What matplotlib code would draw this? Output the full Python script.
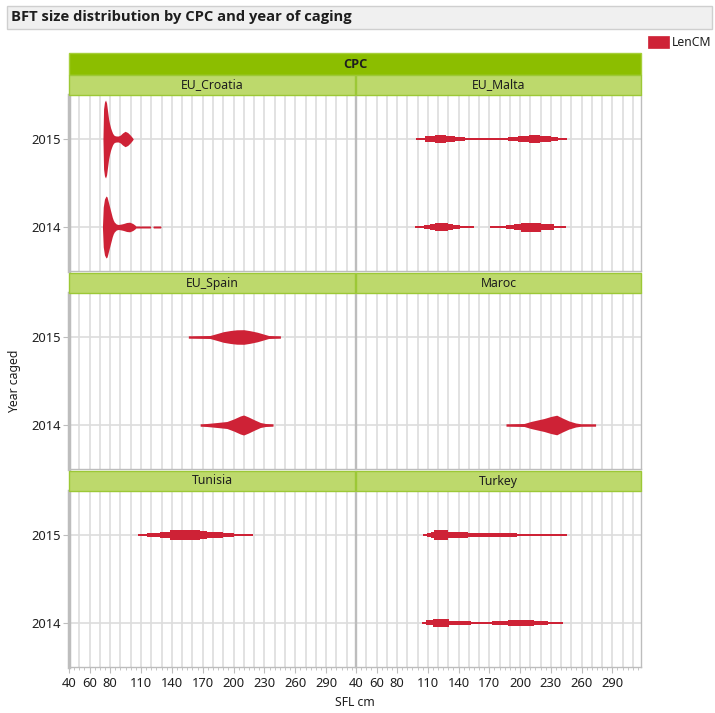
import numpy as np
import matplotlib
matplotlib.use("Agg")
import matplotlib.pyplot as plt
from matplotlib.patches import Rectangle

plt.rcParams['font.family'] = ['Noto Sans', 'DejaVu Sans']
BOLD_FAMILY = ['Open Sans', 'DejaVu Sans']

# ---------------------------------------------------------------- data
cpcs = ["EU_Croatia", "EU_Malta", "EU_Spain", "Maroc", "Tunisia", "Turkey"]
years = ["2014", "2015"]
x_tick_values = [40, 60, 80, 110, 140, 170, 200, 230, 260, 290]

# smooth density outlines: SFL (cm) and half width of the shape
croatia_2015_sfl = [73, 73.6, 74.5, 75.5, 76.5, 77.5, 78.5, 79.5, 80.5, 81.5, 82.5, 84,
                    86, 88, 90, 92, 94.5, 97, 99.5, 101.5, 102.5]
croatia_2015_w = [0, 30, 37, 39, 36, 28, 20, 15, 11, 8, 5.5, 3.5,
                  3, 3, 4, 6, 7.7, 6.5, 4, 1.5, 0]

croatia_2014_sfl = [72.5, 73.3, 74.5, 76, 77, 78, 79, 80, 81, 82, 83, 84, 86, 88, 91,
                    93, 96, 99, 102, 104, 105, 119, 119.5, 121.5, 122, 129, 129.5]
croatia_2014_w = [0, 20, 28, 31, 30, 26, 22, 18, 14, 10, 7, 5, 3, 2.5, 3,
                  3.5, 4.5, 4.8, 3.5, 2, 1, 1, 0, 0, 1, 1, 0]

spain_2015_sfl = [156, 177, 184, 190, 197, 203, 210, 216, 223, 229, 234, 245.5]
spain_2015_w = [1.2, 1.5, 3.5, 5.3, 6.5, 7.2, 7.3, 6.3, 4.8, 3.0, 1.5, 1.2]

spain_2014_sfl = [167.5, 174, 184, 193.5, 200, 206.5, 209.7, 214.5, 219.5, 226, 231, 238.3]
spain_2014_w = [1.2, 1.5, 2.5, 3.5, 6.0, 9.0, 10.0, 8.0, 5.5, 2.5, 1.5, 1.2]

maroc_2014_sfl = [186.3, 204, 210.5, 217, 223.5, 230, 235.8, 241.3, 247.8, 254.3, 259, 273.7]
maroc_2014_w = [1.2, 1.5, 3.5, 5.0, 6.5, 8.5, 9.8, 7.0, 4.0, 2.0, 1.3, 1.2]

# binned outlines: bin edges (cm) and half width per bin
malta_2015_edges = [99, 107, 117, 128, 137, 146, 188, 198, 209, 219, 230, 237, 246]
malta_2015_w = [1.0, 2.7, 4.3, 2.7, 1.7, 1.0, 1.7, 2.7, 4.3, 2.7, 1.7, 1.0]

malta_2014_edges = [98, 106, 112, 117, 130, 134.5, 141, 155.5, 171, 186, 194, 201, 220, 233, 244.5]
malta_2014_w = [1.0, 2.0, 3.0, 4.3, 3.0, 2.0, 1.0, 0.0, 1.0, 2.0, 3.0, 4.5, 3.0, 1.0]

tunisia_2015_edges = [107, 116, 128.5, 138, 154, 167, 174, 190, 200, 218.5]
tunisia_2015_w = [1.0, 2.0, 3.3, 4.7, 5.3, 4.0, 3.3, 2.0, 1.0]

turkey_2015_edges = [105.5, 109.5, 113, 116.5, 129.5, 149, 197, 245.5]
turkey_2015_w = [1.0, 2.0, 3.3, 5.0, 3.3, 2.0, 1.0]

turkey_2014_edges = [104, 108.5, 115, 131, 152, 173, 188.5, 214, 227.5, 242]
turkey_2014_w = [1.0, 2.5, 4.3, 2.3, 1.2, 2.3, 3.0, 2.3, 1.0]


def binned(edges, w):
    edges = np.asarray(edges, float)
    xs = np.column_stack([edges[:-1], edges[1:]]).ravel()
    return xs, np.repeat(np.asarray(w, float), 2)


shapes = {
    ("EU_Croatia", "2015"): (np.array(croatia_2015_sfl), np.array(croatia_2015_w, float)),
    ("EU_Croatia", "2014"): (np.array(croatia_2014_sfl), np.array(croatia_2014_w, float)),
    ("EU_Malta", "2015"): binned(malta_2015_edges, malta_2015_w),
    ("EU_Malta", "2014"): binned(malta_2014_edges, malta_2014_w),
    ("EU_Spain", "2015"): (np.array(spain_2015_sfl), np.array(spain_2015_w, float)),
    ("EU_Spain", "2014"): (np.array(spain_2014_sfl), np.array(spain_2014_w, float)),
    ("Maroc", "2014"): (np.array(maroc_2014_sfl), np.array(maroc_2014_w, float)),
    ("Tunisia", "2015"): binned(tunisia_2015_edges, tunisia_2015_w),
    ("Turkey", "2015"): binned(turkey_2015_edges, turkey_2015_w),
    ("Turkey", "2014"): binned(turkey_2014_edges, turkey_2014_w),
}

# ---------------------------------------------------------------- layout
W, H = 715, 713
fig = plt.figure(figsize=(W / 100, H / 100), dpi=100)
fig.patch.set_facecolor("white")

RED = "#CE2236"
DARK_GREEN = "#8CBE00"
LIGHT_GREEN = "#BDD96C"
GREEN_EDGE = "#9CC836"
GRID = "#DDDDDD"
AXIS = "#BDBDBD"
TXT = "#1E1E1E"


def fx(x):
    return x / W


def fy(y):
    return 1 - y / H


def box(x0, y0, x1, y1, fc, ec, lw=1.0, z=1):
    fig.patches.append(Rectangle((fx(x0), fy(y1)), fx(x1) - fx(x0), fy(y0) - fy(y1),
                                 transform=fig.transFigure, facecolor=fc, edgecolor=ec,
                                 linewidth=lw, zorder=z))


# title bar
box(7, 6, 712, 29, "#F0F0F0", "#CFCFCF")
fig.text(fx(11), fy(17.5), "BFT size distribution by CPC and year of caging",
         fontsize=10.6, fontweight="bold", family=BOLD_FAMILY, color=TXT,
         va="center", ha="left")

# legend
box(648, 36, 669, 48, RED, RED, lw=0.5)
fig.text(fx(672), fy(42), "LenCM", fontsize=8.8, color=TXT, va="center", ha="left")

# top group header
col_x = [(69, 355), (356, 641)]
box(69, 53, 641, 75, DARK_GREEN, "#A6CF3A")
fig.text(fx(355), fy(64), "CPC", fontsize=9.2, fontweight="bold", family=BOLD_FAMILY,
         color=TXT, va="center", ha="center")

row_y = [(75, 95, 271), (273, 293, 469), (471, 491, 667)]
xlim = (40, 318)
width_scale = 1 / 88.0   # shape half width to category units

for i, cpc in enumerate(cpcs):
    r, c = divmod(i, 2)
    hy0, py0, py1 = row_y[r]
    x0, x1 = col_x[c]
    box(x0, hy0, x1, py0, LIGHT_GREEN, GREEN_EDGE, lw=1.0)
    fig.text(fx((x0 + x1) / 2), fy((hy0 + py0) / 2), cpc, fontsize=8.8, color=TXT,
             va="center", ha="center")

    ax = fig.add_axes([fx(x0), fy(py1), fx(x1) - fx(x0), fy(py0) - fy(py1)])
    ax.set_xlim(*xlim)
    ax.set_ylim(-0.5, 1.5)
    for gx in range(50, 320, 10):
        ax.axvline(gx, color=GRID, lw=1.2, zorder=0)
    for gy in range(len(years)):
        ax.axhline(gy, color=GRID, lw=1.2, zorder=0)

    for j, yr in enumerate(years):
        if (cpc, yr) in shapes:
            xs, hw = shapes[(cpc, yr)]
            ax.fill_between(xs, j - hw * width_scale, j + hw * width_scale,
                            color=RED, lw=0, zorder=3)

    ax.set_yticks(range(len(years)))
    ax.set_xticks(x_tick_values)
    ax.set_xticks(np.arange(40, 316, 5), minor=True)
    for s in ax.spines.values():
        s.set_color(AXIS)
        s.set_linewidth(1.0)
    ax.spines["top"].set_visible(False)
    ax.spines["left"].set_linewidth(2.5 if c == 0 else 1.0)
    ax.tick_params(axis="y", length=4, width=0.8, color=AXIS, labelsize=9.3,
                   labelcolor=TXT, pad=2)
    ax.tick_params(axis="x", which="major", length=4, width=0.8, color=AXIS,
                   labelsize=9.3, labelcolor=TXT, pad=3)
    ax.tick_params(axis="x", which="minor", length=2.5, width=0.6, color=AXIS)
    if c == 0:
        ax.set_yticklabels(years)
    else:
        ax.tick_params(axis="y", length=0, labelleft=False)
    if r < 2:
        ax.tick_params(axis="x", which="both", length=0, labelbottom=False)

fig.text(fx(15), fy(381), "Year caged", fontsize=8.8, color=TXT, rotation=90,
         va="center", ha="center")
fig.text(fx(355), fy(703), "SFL cm", fontsize=8.8, color=TXT, va="center", ha="center")

fig.savefig("out.png", dpi=100, facecolor="white")
